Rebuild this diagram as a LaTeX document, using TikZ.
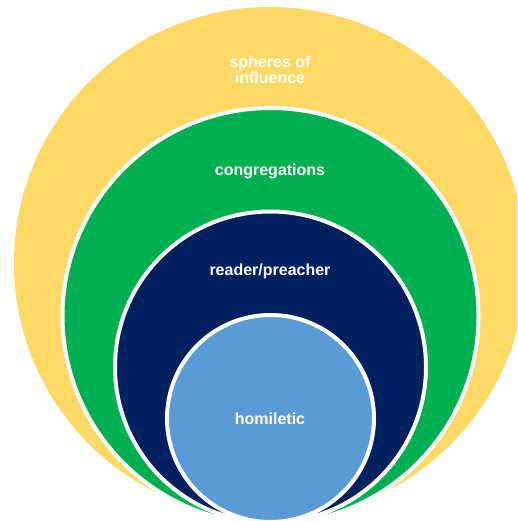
\documentclass[tikz,border=0pt]{standalone}
\usepackage{fontspec}
\setmainfont{Liberation Sans}
\definecolor{cyellow}{HTML}{FFD966}
\definecolor{cgreen}{HTML}{00B050}
\definecolor{cnavy}{HTML}{002060}
\definecolor{cblue}{HTML}{5B9BD5}
\begin{document}
\begin{tikzpicture}[x=1pt,y=-1pt,
  ring/.style={draw=white,line width=4pt},
  lbl/.style={text=white,font=\fontsize{16}{17}\selectfont\bfseries,align=center,inner sep=0pt}]
\useasboundingbox (0,0) rectangle (517,521);
\clip (0,0) rectangle (517,521);
\path[fill=cyellow] (270,263) circle[radius=256];
\path[ring,fill=cgreen] (270.5,316) circle[radius=208];
\path[ring,fill=cnavy] (270.5,367) circle[radius=155.5];
\path[ring,fill=cblue] (270.5,418.5) circle[radius=103.5];
\node[lbl] (spheres) at (270,69.5) {spheres of\\[-1pt]influence};
\node[lbl] (cong) at (270,171) {congregations};
\node[lbl] (reader) at (270,271) {reader/preacher};
\node[lbl] (hom) at (270,419) {homiletic};
\end{tikzpicture}
\end{document}
